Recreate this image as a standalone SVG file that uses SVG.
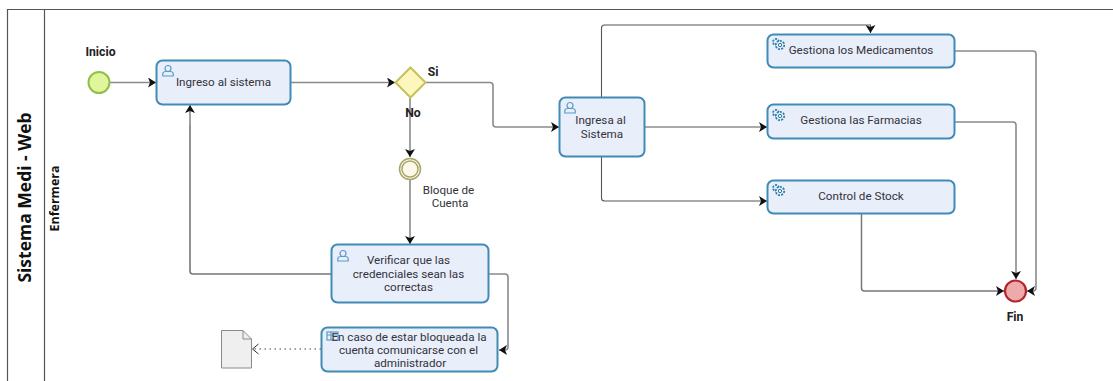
<svg xmlns="http://www.w3.org/2000/svg" width="1113" height="381" viewBox="0 0 1113 381">
<style>
text{font-family:Roboto,"Open Sans",sans-serif;font-size:11.650px;fill:#33333a;text-anchor:middle}
.b{font-weight:700;fill:#222;font-size:12.200px}
.t{font-family:"Open Sans",sans-serif;font-weight:700;fill:#111}
.task{fill:#e9eefb;stroke:#3f8bb5;stroke-width:2}
.c{fill:none;stroke:#8a8a8a;stroke-width:1.6}
.d{fill:none;stroke:#555;stroke-width:1.1}
.ic{fill:none;stroke:#5a9cc5;stroke-width:1.2}
.gear{fill:#e9eefb;stroke:#2f7fa9;stroke-width:1.800;stroke-dasharray:2 1.2}
</style>
<defs>
<marker id="a" markerWidth="9" markerHeight="10" refX="8" refY="5" orient="auto" markerUnits="userSpaceOnUse"><path d="M0 0L8 5L0 10L2 5Z" fill="#111"/></marker>
<marker id="o" markerWidth="9" markerHeight="12" refX="8" refY="6" orient="auto" markerUnits="userSpaceOnUse"><path d="M1.500 1L7.500 6L1.500 11" fill="none" stroke="#333" stroke-width="1"/></marker>
<g id="user"><circle cx="6" cy="3.500" r="3" class="ic"/><path d="M0.800 11V8.500Q1 6.500 4 6.500H8Q11 6.500 11.200 8.500V11Z" class="ic"/></g>
<g id="gr"><circle cx="4" cy="4" r="3" class="gear"/><circle cx="8" cy="7" r="4.200" class="gear"/><circle cx="8" cy="7" r="1.700" fill="none" stroke="#2f7fa9"/></g>
</defs>
<g id="pool" fill="none" stroke="#555" stroke-width="1.2"><path d="M1113 9.500H7.500V381M44.500 9.500V381"/></g>
<text transform="translate(31 197.500) rotate(-90)" class="t" style="font-size:17.500px">Sistema Medi - Web</text>
<text transform="translate(59 198.500) rotate(-90)" class="t" style="font-size:12.500px">Enfermera</text>
<g id="connectors">
<path class="c" d="M110 82.500H156" marker-end="url(#a)"/>
<path class="c" d="M290 82.500H395" marker-end="url(#a)"/>
<path class="c" d="M426 82.500H490Q493 82.500 493 85.500V124Q493 127 496 127H559" marker-end="url(#a)"/>
<path class="d" d="M410 98V157" marker-end="url(#a)"/>
<path class="d" d="M410 180V244" marker-end="url(#a)"/>
<path class="c" d="M331 274H193Q190 274 190 271V125" style="stroke:#777"/>
<path class="d" d="M190 125V105" marker-end="url(#a)"/>
<path class="c" d="M489 274H505Q508 274 508 277V347Q508 350 505 350H499" marker-end="url(#a)"/>
<path d="M321 349H252" fill="none" stroke="#444" stroke-dasharray="1.500 3.500" marker-end="url(#o)"/>
<path class="d" d="M601.500 97V28Q601.500 25 604.500 25H870.500V33" marker-end="url(#a)"/>
<path class="d" d="M645 127H767" marker-end="url(#a)"/>
<path class="d" d="M601.500 157V198Q601.500 201 604.500 201H767" marker-end="url(#a)"/>
<path class="c" d="M954 51H1033Q1036 51 1036 54V288Q1036 291 1033 291H1027" marker-end="url(#a)"/>
<path class="c" d="M954 122H1013Q1016 122 1016 125V279" marker-end="url(#a)"/>
<path class="d" d="M861.500 214V288Q861.500 291 864.500 291H1004" style="stroke:#777;stroke-width:1.500" marker-end="url(#a)"/>
</g>
<g id="n-inicio"><circle cx="99" cy="82.500" r="10.500" fill="#e0f59c" stroke="#8fc04a" stroke-width="2"/><text x="100.500" y="56" class="b">Inicio</text></g>
<g id="n-ingreso"><rect class="task" x="156.500" y="60.500" width="134" height="44" rx="6"/><use href="#user" x="162" y="65"/><text x="223.500" y="86">Ingreso al sistema</text></g>
<g id="n-gateway"><path d="M410.500 67.500L425.500 82.500L410.500 97.500L395.500 82.500Z" fill="#fdf7bd" stroke="#c5c257" stroke-width="2"/><text x="433" y="76" class="b">Si</text><text x="413" y="117" class="b">No</text></g>
<g id="n-bloque"><circle cx="410" cy="169" r="10.500" fill="#fdf9ea" stroke="#a8a56a" stroke-width="1.500"/><circle cx="410" cy="169" r="8" fill="#fdf9ea" stroke="#a8a56a" stroke-width="1.500"/><text><tspan x="448.500" y="194">Bloque de</tspan><tspan x="450" y="207">Cuenta</tspan></text></g>
<g id="n-verificar"><rect class="task" x="331.500" y="244.500" width="157" height="58" rx="6"/><use href="#user" x="337" y="250"/><text><tspan x="408.500" y="264">Verificar que las</tspan><tspan x="408.500" y="278">credenciales sean las</tspan><tspan x="408.500" y="291">correctas</tspan></text></g>
<g id="n-comunicar"><rect class="task" x="321.500" y="327.500" width="176" height="44" rx="6"/><rect x="327" y="332" width="11" height="8" class="ic"/><path d="M327 335H338M331 332V340" class="ic"/><text><tspan x="409" y="341">En caso de estar bloqueada la</tspan><tspan x="408.500" y="354">cuenta comunicarse con el</tspan><tspan x="410" y="367">administrador</tspan></text></g>
<g id="n-doc"><path d="M221.500 330.500H243L251.500 339V368H221.500Z" fill="#efefef" stroke="#8a8a8a"/><path d="M243 330.500V339H251.500" fill="none" stroke="#8a8a8a"/></g>
<g id="n-ingresa"><rect class="task" x="559.500" y="97.500" width="85" height="59" rx="6"/><use href="#user" x="564" y="102"/><text><tspan x="600.500" y="124">Ingresa al</tspan><tspan x="602" y="138">Sistema</tspan></text></g>
<g id="n-medicamentos"><rect class="task" x="767.500" y="34.500" width="187" height="33" rx="6"/><use href="#gr" x="772" y="38"/><text x="861" y="54">Gestiona los Medicamentos</text></g>
<g id="n-farmacias"><rect class="task" x="767.500" y="104.500" width="187" height="34" rx="6"/><use href="#gr" x="772" y="109"/><text x="861" y="124">Gestiona las Farmacias</text></g>
<g id="n-stock"><rect class="task" x="767.500" y="180.500" width="187" height="33" rx="6"/><use href="#gr" x="772" y="184"/><text x="861" y="200">Control de Stock</text></g>
<g id="n-fin"><circle cx="1015.500" cy="291" r="10.500" fill="#eeaaaa" stroke="#b3262e" stroke-width="2.200"/><text x="1015" y="321" class="b">Fin</text></g>
</svg>
